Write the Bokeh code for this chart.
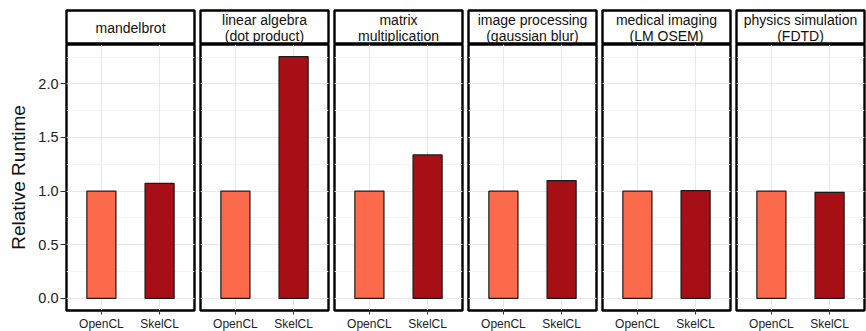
from bokeh.plotting import figure
from bokeh.layouts import gridplot
from bokeh.models import FactorRange, Range1d, SingleIntervalTicker, ColumnDataSource, NumeralTickFormatter
from bokeh.core.properties import value
from bokeh.embed import file_html
from bokeh.resources import INLINE

# ---- data ----
benchmarks = ["mandelbrot", "linear algebra\n(dot product)", "matrix\nmultiplication",
              "image processing\n(gaussian blur)", "medical imaging\n(LM OSEM)",
              "physics simulation\n(FDTD)"]
implementations = ["OpenCL", "SkelCL"]
opencl_runtime = [1.0, 1.0, 1.0, 1.0, 1.0, 1.0]
skelcl_runtime = [1.072, 2.254, 1.337, 1.098, 1.005, 0.989]
bar_colors = ["#FB6A4A", "#A50F15"]
y_label = "Relative Runtime"

FONT_NAME = "Liberation Sans"
FONT = value(FONT_NAME)
FW = 128          # panel frame width
STRIP_H = 34
PANEL_H = 266
LEFT = 66

ymax = max(max(opencl_runtime), max(skelcl_runtime))
y_start, y_end = -0.05 * ymax, 1.05 * ymax

strips = []
panels = []
for i, bench in enumerate(benchmarks):
    first = i == 0
    # strip
    s = figure(frame_width=FW, frame_height=STRIP_H, x_range=Range1d(0, 1), y_range=Range1d(0, 1),
               x_axis_location=None, y_axis_location=None, toolbar_location=None,
               output_backend="svg", min_border_left=LEFT if first else 2,
               min_border_right=2, min_border_top=10, min_border_bottom=0)
    s.grid.visible = False
    s.outline_line_color = "black"
    s.outline_line_width = 2.4
    s.background_fill_color = "white"
    s.text(x=[0.5], y=[0.5], text=[bench], text_align="center", text_baseline="middle",
           text_font=FONT, text_font_size="14px", text_line_height=1.0, text_color="#111111")
    strips.append(s)

    # panel
    src = ColumnDataSource(dict(impl=implementations,
                                runtime=[opencl_runtime[i], skelcl_runtime[i]],
                                color=bar_colors))
    p = figure(frame_width=FW, frame_height=PANEL_H,
               x_range=FactorRange(*implementations, range_padding=0.1, range_padding_units="absolute"),
               y_range=Range1d(y_start, y_end),
               y_axis_location="left" if first else None,
               toolbar_location=None, output_backend="svg",
               min_border_left=LEFT if first else 2, min_border_right=2,
               min_border_top=0, min_border_bottom=20)
    p.vbar(x="impl", top="runtime", bottom=0, width=0.5, source=src,
           fill_color="color", line_color="#1a1a1a", line_width=1.2)
    p.outline_line_color = "black"
    p.outline_line_width = 2.4
    p.background_fill_color = "white"

    p.xgrid.grid_line_color = "#E8E8E8"
    p.ygrid.grid_line_color = "#E8E8E8"
    p.ygrid.minor_grid_line_color = "#F4F4F4"
    p.ygrid.ticker = SingleIntervalTicker(interval=0.5, num_minor_ticks=2)

    xa = p.xaxis[0]
    xa.axis_line_color = None
    xa.major_tick_out = 4
    xa.major_tick_in = 0
    xa.major_tick_line_color = "#333333"
    xa.major_label_standoff = 2
    xa.major_label_text_font = FONT_NAME
    xa.major_label_text_font_size = "12px"
    xa.major_label_text_color = "#222222"

    if first:
        ya = p.yaxis[0]
        ya.ticker = SingleIntervalTicker(interval=0.5, num_minor_ticks=2)
        ya.formatter = NumeralTickFormatter(format="0.0")
        ya.axis_line_color = None
        ya.major_tick_out = 6
        ya.major_tick_in = 0
        ya.minor_tick_line_color = None
        ya.major_tick_line_color = "#333333"
        ya.major_label_standoff = 2
        ya.major_label_text_font = FONT_NAME
        ya.major_label_text_font_size = "14.5px"
        ya.major_label_text_color = "#222222"
        ya.axis_label = y_label
        ya.axis_label_text_font = FONT_NAME
        ya.axis_label_text_font_size = "19px"
        ya.axis_label_text_font_style = "normal"
        ya.axis_label_text_color = "#111111"
        ya.axis_label_standoff = 6
    panels.append(p)

g = gridplot([strips, panels], toolbar_location=None)
g.spacing = (0, 2)

open("out.html", "w").write(file_html(g, INLINE))
